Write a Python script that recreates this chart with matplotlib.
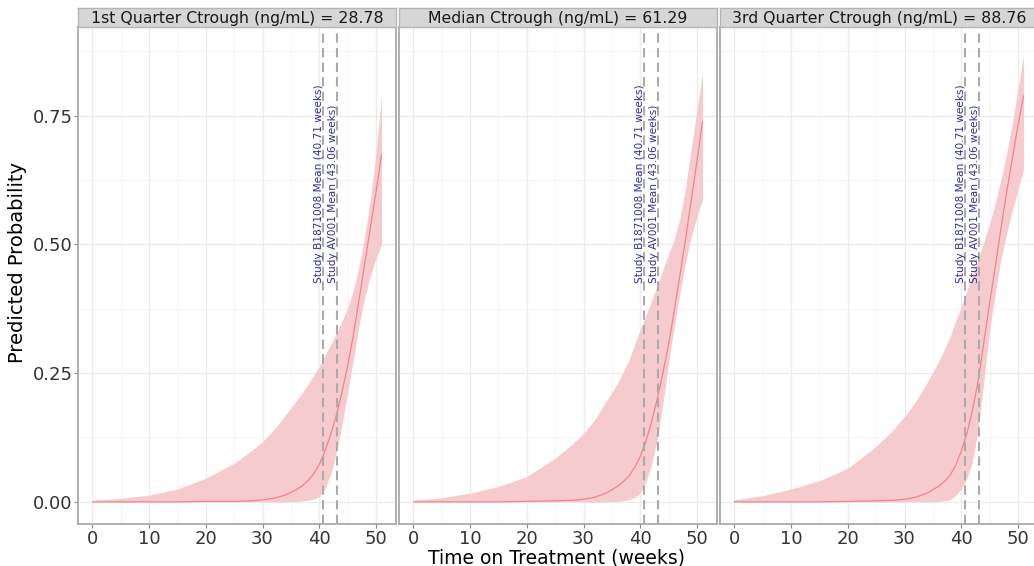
import matplotlib
matplotlib.use("Agg")
from matplotlib import pyplot as plt
from matplotlib.ticker import MultipleLocator

weeks = [0, 5, 10, 15, 20, 25, 28, 30, 32, 34, 36, 37, 38, 39, 40, 41, 42, 43, 44, 45, 46, 47, 48, 49, 50, 51]

panel_titles = ["1st Quarter Ctrough (ng/mL) = 28.78",
                "Median Ctrough (ng/mL) = 61.29",
                "3rd Quarter Ctrough (ng/mL) = 88.76"]

# 1st quarter
q1_mean = [0.000, 0.000, 0.000, 0.000, 0.001, 0.001, 0.002, 0.004, 0.007, 0.013, 0.024, 0.031, 0.041,
           0.054, 0.072, 0.098, 0.130, 0.167, 0.212, 0.263, 0.322, 0.390, 0.460, 0.530, 0.600, 0.674]
q1_upper = [0.003, 0.007, 0.013, 0.025, 0.046, 0.075, 0.099, 0.117, 0.140, 0.168, 0.197, 0.212, 0.228,
            0.245, 0.263, 0.284, 0.305, 0.327, 0.350, 0.376, 0.410, 0.455, 0.515, 0.585, 0.675, 0.790]
q1_lower = [0.000, 0.000, 0.000, 0.000, 0.000, 0.000, 0.000, 0.000, 0.000, 0.000, 0.001, 0.002, 0.003,
            0.005, 0.010, 0.025, 0.052, 0.095, 0.148, 0.210, 0.275, 0.340, 0.395, 0.438, 0.472, 0.500]

# median
med_mean = [0.000, 0.000, 0.000, 0.000, 0.001, 0.002, 0.003, 0.005, 0.009, 0.017, 0.030, 0.039, 0.050,
            0.066, 0.088, 0.117, 0.155, 0.200, 0.250, 0.305, 0.370, 0.440, 0.510, 0.585, 0.660, 0.739]
med_upper = [0.003, 0.008, 0.017, 0.030, 0.049, 0.085, 0.112, 0.133, 0.160, 0.195, 0.230, 0.252, 0.275,
             0.305, 0.334, 0.362, 0.390, 0.420, 0.450, 0.480, 0.510, 0.550, 0.610, 0.685, 0.760, 0.833]
med_lower = [0.000, 0.000, 0.000, 0.000, 0.000, 0.000, 0.000, 0.000, 0.000, 0.000, 0.001, 0.002, 0.004,
             0.008, 0.017, 0.038, 0.072, 0.120, 0.190, 0.268, 0.340, 0.405, 0.465, 0.515, 0.553, 0.587]

# 3rd quarter
q3_mean = [0.000, 0.000, 0.000, 0.000, 0.001, 0.002, 0.003, 0.005, 0.009, 0.017, 0.030, 0.039, 0.051,
           0.070, 0.098, 0.133, 0.178, 0.235, 0.310, 0.385, 0.455, 0.530, 0.600, 0.665, 0.730, 0.788]
q3_upper = [0.004, 0.012, 0.025, 0.041, 0.065, 0.108, 0.140, 0.166, 0.195, 0.232, 0.272, 0.295, 0.320,
            0.350, 0.378, 0.410, 0.440, 0.470, 0.505, 0.540, 0.580, 0.625, 0.675, 0.735, 0.800, 0.868]
q3_lower = [0.000, 0.000, 0.000, 0.000, 0.000, 0.000, 0.000, 0.000, 0.000, 0.000, 0.001, 0.002, 0.004,
            0.012, 0.025, 0.045, 0.078, 0.140, 0.235, 0.330, 0.405, 0.470, 0.520, 0.565, 0.605, 0.645]

study_weeks = [40.71, 43.06]
study_labels = ["Study B1871008 Mean (40.71 weeks)", "Study AV001 Mean (43.06 weeks)"]

panels = [(q1_mean, q1_lower, q1_upper),
          (med_mean, med_lower, med_upper),
          (q3_mean, q3_lower, q3_upper)]

W, H = 1034, 566
fig = plt.figure(figsize=(W / 100, H / 100), dpi=100)

lefts = [78, 399, 720]
pw = 318
bottom, top, strip_h = 524, 27, 19

for i, (mean, lower, upper) in enumerate(panels):
    ax = fig.add_axes([lefts[i] / W, 1 - bottom / H, pw / W, (bottom - top) / H])
    ax.set_xlim(-2.55, 53.55)
    ax.set_ylim(-0.043, 0.922)
    ax.xaxis.set_major_locator(MultipleLocator(10))
    ax.xaxis.set_minor_locator(MultipleLocator(5))
    ax.yaxis.set_major_locator(MultipleLocator(0.25))
    ax.yaxis.set_minor_locator(MultipleLocator(0.125))
    ax.grid(which="major", color="#EBEBEB", lw=0.9)
    ax.grid(which="minor", color="#F3F3F3", lw=0.6)
    ax.set_axisbelow(True)

    ax.fill_between(weeks, lower, upper, color="#F6CBCE", lw=0, zorder=2)
    ax.plot(weeks, mean, color="#F2848B", lw=0.9, zorder=3)

    for wk, lab in zip(study_weeks, study_labels):
        ax.axvline(wk, color="#ABABAB", lw=1.5, dashes=(4.5, 2.5), zorder=4)
        ax.text(wk + 0.2, 0.425, lab, rotation=90, ha="right", va="bottom",
                fontsize=7.6, color="#2F2F9A", zorder=5)

    for s in ax.spines.values():
        s.set_color("#AAAAAA")
        s.set_linewidth(1.3)
    ax.tick_params(which="minor", length=0)
    ax.tick_params(which="major", length=3, color="#888888", labelsize=13,
                   labelcolor="#333333", pad=1)
    ax.set_xticks([0, 10, 20, 30, 40, 50])
    if i == 0:
        ax.set_yticks([0, 0.25, 0.5, 0.75])
        ax.set_yticklabels(["0.00", "0.25", "0.50", "0.75"])
    else:
        ax.tick_params(axis="y", which="both", left=False, labelleft=False)

    # facet strip
    sax = fig.add_axes([lefts[i] / W, 1 - top / H, pw / W, strip_h / H])
    sax.set_facecolor("#D6D6D6")
    sax.set_xticks([])
    sax.set_yticks([])
    for s in sax.spines.values():
        s.set_color("#B5B5B5")
        s.set_linewidth(1.0)
    sax.text(0.5, 0.45, panel_titles[i], ha="center", va="center",
             fontsize=11.3, color="#1A1A1A", transform=sax.transAxes)

fig.text(557 / W, 1 - 558 / H, "Time on Treatment (weeks)", ha="center", va="center",
         fontsize=13.5)
fig.text(18 / W, 1 - 262 / H, "Predicted Probability", ha="center", va="center",
         rotation=90, fontsize=14)

fig.savefig("out.png", dpi=100, facecolor="white")
